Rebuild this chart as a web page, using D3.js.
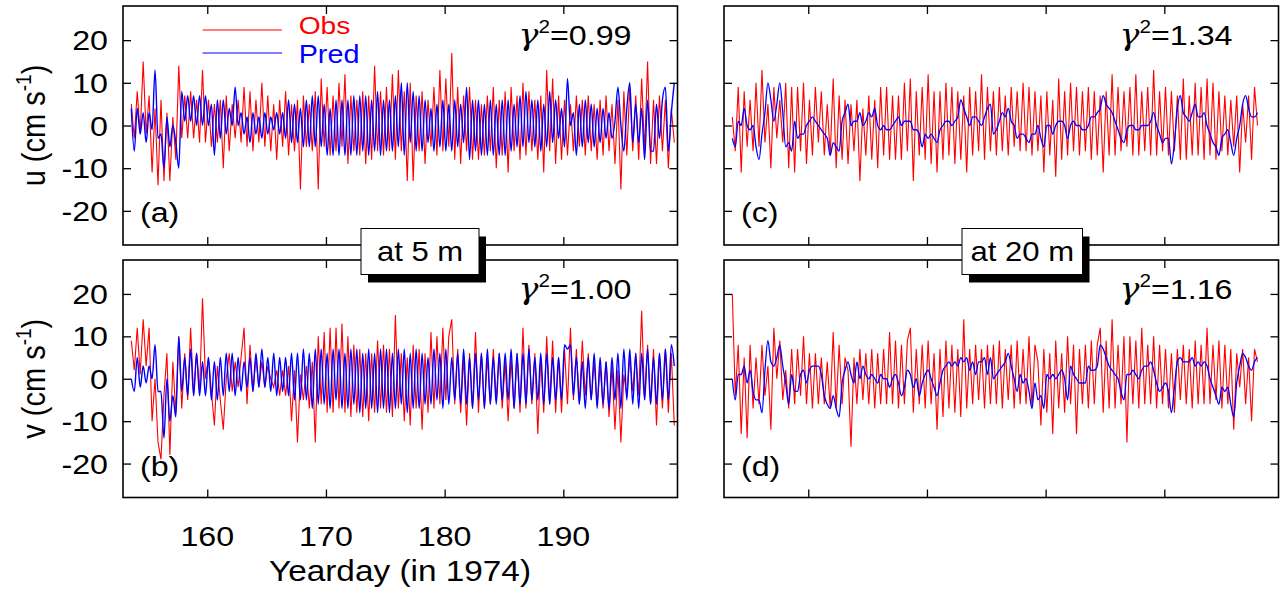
<!DOCTYPE html>
<html>
<head>
<meta charset="utf-8">
<script src="https://cdn.jsdelivr.net/npm/d3@7"></script>
<style>
body { margin: 0; background: #fff; }
text { font-family: "Liberation Sans", Arial, Helvetica, sans-serif; }
</style>
</head>
<body>
<script>
// time axis of the records: one value every quarter day
var startDay = 153.6
var step = 0.25

var xTicks = [160, 170, 180, 190]
var yTicks = [-20, -10, 0, 10, 20]
var yTickLabels = ["-20", "-10", "0", "10", "20"]
var panelTags = ["(a)", "(b)", "(c)", "(d)"]
var gammaValues = ["0.99", "1.00", "1.34", "1.16"]
var depthLabels = ["at 5 m", "at 20 m"]

// u at 5 m
var u5Obs = [5,-3,8,-2, 15,-2,7,-11, 4,-14,6,-13, 3,-13,2,-8, 14,-3,7,-3, 8,-3,6,-4, 13,-4,6,-5, 5,-4,6,-10,
  7,-6,5,-3, 6,-4,9,-5, 8,-6,6,-4, 10,-5,7,-6, 5,-8,6,-5, 8,-7,5,-6, 6,-15,7,-5, 5,-6,8,-15,
  11,-5,9,-7, 7,-6,10,-5, 12,-9,7,-6, 6,-7,8,-9, 7,-8,14,-6, 8,-7,9,-6, 12,-8,13,-6, 8,-13,10,-13,
  7,-6,8,-9, 6,-5,9,-7, 13,-6,11,-5, 17,-8,9,-9, 7,-6,9,-8, 6,-8,5,-7, 7,-6,9,-10, 6,-7,8,-11,
  9,-6,7,-8, 10,-7,8,-6, 6,-8,7,-11, 13,-6,11,-9, 7,-8,6,-7, 5,-6,7,-5, 6,-7,7,-6, 5,-8,6,-7,
  7,-6,5,-9, 6,-15,8,-7, 9,-6,7,-8, 11,-6,15,-9, 6,-9,7,-6, 6,-10,4,-4]
var u5Pred = [4,-6,4,-2, 3,-4,3,-1, 13,-3,-2,-10, 2,-5,0,-4, -10,8,1,7, 1,7,0,7, 0,7,0,5, -7,6,-3,6,
  -2,4,0,9, 0,3,-2,2, -4,3,-2,2, -3,3,-2,2, -1,3,-2,3, -3,6,-4,5, -4,4,-5,6, -5,7,-5,7,
  -5,5,-7,4, -7,6,-7,6, -7,6,-7,7, -7,7,-6,7, -7,6,-6,8, -7,6,-6,6, -6,7,-5,10, -7,10,-4,8,
  -6,7,-6,6, -4,4,-6,5, -5,6,-6,5, -6,6,-5,5, -4,9,-8,6, -6,6,-7,5, -7,6,-7,5, -7,6,-7,6,
  -6,5,-5,7, -5,8,-4,6, -5,6,-6,5, -5,8,-4,6, -3,4,-5,11, 0,3,-7,5, -5,6,-4,5, -5,4,-4,4,
  -3,3,-3,1, 9,0,-6,4, 10,-4,5,-4, 4,-8,6,-6, -6,5,-3,6, 9,-6,3,10]

// v at 5 m
var v5Obs = [9,2,12,1, 14,3,12,-10, 0,-15,-19,-4, 6,-18,4,-8, 10,-7,6,-5, 12,-4,6,-3, 19,0,5,-3, -11,3,-5,-12,
  0,6,-3,4, -2,5,12,-6, 8,-3,5,-2, 4,-2,3,0, -2,2,-4,2, -4,3,-10,2, -15,1,-5,3, -7,4,-15,10,
  -6,11,-8,12, -8,12,-7,13, -8,10,-9,8, -8,7,-9,6, -10,6,-8,9, -7,8,-8,7, -9,15,-7,6, -10,5,-11,8,
  -7,7,-12,6, -8,11,-7,10, -6,12,-5,10, 14,-6,7,-8, 5,-11,6,-7, 11,-8,6,-7, 5,-6,7,-5, 6,-7,4,-10,
  5,-7,6,-8, 12,-7,8,-6, 6,-13,5,-8, 10,-6,9,-8, 5,-8,7,-6, 12,-5,7,-6, 9,-4,6,-5, 4,-6,3,-7,
  4,-9,3,-12, 2,-15,1,-4, 5,-3,6,-4, 16,-5,8,-6, 7,-11,6,-7, 7,-8,6,-11]
var v5Pred = [0,-3,5,-2, 3,-1,3,0, 8,-3,-3,-14, 0,-10,-4,-9, 10,-3,5,-4, 7,-4,6,-4, 4,-4,5,-5, 4,-5,5,-4,
  6,-3,6,-4, 5,-3,4,-2, 5,-3,6,-2, 7,-2,5,-3, 6,-4,5,-3, 5,-4,6,-5, 6,-5,7,-5, 6,-7,7,-6,
  7,-6,6,-7, 7,-5,7,-7, 6,-7,7,-6, 7,-8,6,-7, 7,-7,6,-8, 7,-7,7,-8, 6,-7,7,-6, 7,-8,6,-7,
  7,-7,6,-6, 5,-6,7,-5, 6,-7,7,-6, 5,-5,6,-6, 7,-6,5,-7, 6,-5,6,-7, 7,-6,5,-6, 6,-5,6,-5,
  7,-7,6,-6, 6,-6,7,-5, 5,-5,6,-6, 6,-6,5,-5, 5,-5,8,7, 8,-4,5,-6, 4,-7,5,-5, 6,-7,5,-6,
  4,-7,5,-5, 6,-7,7,-5, 7,-6,6,-7, 6,-5,7,-6, 5,-6,6,-5, 7,-5,8,3]

// u at 20 m
var u20Obs = [2,-6,9,-11, 8,-5,6,-6, 10,-5,13,-4, 5,-10,9,-3, 6,-4,10,-10, 9,-11,9,-6, 10,-9,6,-7, 9,-4,8,-7,
  5,-7,11,-10, 7,-8,6,-9, 5,-6,6,-13, 4,-7,7,-8, 6,-10,9,-7, 9,-8,7,-8, 7,-8,10,-6, 11,-13,8,-7,
  9,-8,12,-9, 8,-11,8,-8, 10,-7,9,-9, 8,-8,7,-11, 9,-7,8,-6, 12,-8,9,-6, 8,-7,9,-6, 7,-7,9,-5,
  8,-6,10,-6, 9,-7,8,-6, 7,-11,8,-7, 6,-12,11,-8, 8,-7,10,-6, 9,-7,8,-6, 9,-8,8,-7, 7,-11,8,-7,
  12,-7,9,-6, 8,-5,9,-7, 12,-7,8,-6, 9,-7,13,-7, 8,-6,9,-7, 8,-6,7,-8, 11,-8,7,-7, 10,-7,9,-8,
  11,-7,10,-8, 8,-6,7,-7, 6,-5,7,-11, 5,-4,7,-8, 9,0]
var u20Pred = [-3,-5,1,0, 4,0,-1,0, -5,-8,-2,3, 10,6,1,5, 10,3,-5,-4, -6,1,-3,-2, -2,0,1,2, 1,0,-1,-2,
  -3,-7,-4,-5, -6,1,3,5, 0,1,1,3, 0,1,3,2, 4,0,-1,0, -1,-1,0,1, 2,0,1,1, 1,-1,-1,-2,
  -5,-2,-3,-2, -3,-4,-1,0, 1,1,0,1, 2,6,4,2, 0,2,2,1, 0,2,4,5, -2,-1,1,3, 2,4,1,0,
  -3,-2,-2,-3, -4,-2,-2,0, -3,-5,0,0, -2,0,1,1, 0,-3,0,1, 0,0,-1,-1, 0,2,2,3, 4,7,5,4,
  3,1,-1,-3, -4,-1,0,0, -1,-1,0,0, 0,1,3,0, -2,-4,-3,-3, -9,-4,4,7, 3,2,1,3, 5,2,2,3,
  0,-2,-4,-5, -7,-3,-2,-1, -4,-7,-3,0, 5,7,4,2, 2,3]

// v at 20 m
var v20Obs = [20,-4,8,-13, 5,-14,8,-7, 5,-6,8,-4, 3,-12,12,0, 9,-5,2,-7, 7,-6,7,-4, 10,-6,6,-7, 6,-6,5,-6,
  4,-7,11,-7, 8,-6,5,2, -16,5,-6,7, -5,6,-6,7, -7,6,-6,7, -6,11,-6,9, -7,8,-6,9, 12,-8,7,-6,
  8,-7,9,-6, 6,-12,7,-9, 9,-7,8,-8, 7,-9,14,-7, 7,-6,8,-5, 7,-7,8,-6, 8,-6,9,-7, 7,-5,8,-7,
  9,-6,7,-6, 10,-7,8,4, -11,7,-8,6, -13,9,-7,6, -8,10,-6,8, -13,7,-6,8, -7,9,-6,8, 12,-8,9,-7,
  14,-7,8,-6, 10,-15,10,-6, 9,-7,12,-6, 8,-6,10,-7, 8,-6,7,-7, 6,-8,7,-5, 8,-6,7,-7, 9,-6,8,-6,
  12,-6,8,-5, 9,-7,8,-6, 7,-12,6,-2, 7,-6,5,-10, 7,4]
var v20Pred = [0,-5,1,1, 3,-1,2,-3, -5,-5,-8,2, 9,4,3,5, 8,3,-1,-6, 1,-3,-3,1, 2,-1,2,3, 3,3,1,-4,
  -6,-7,-4,-7, -9,-1,2,4, 1,-1,4,0, 3,1,0,1, 0,-1,1,0, 0,-2,0,1, -1,-4,-2,2, 1,-2,0,-4,
  -1,1,2,0, -2,-4,-1,2, 3,4,3,4, 3,5,4,5, 2,4,1,4, 4,5,1,5, 0,1,2,3, 4,6,3,0,
  -3,1,-1,0, -3,-7,-1,-5, -4,-7,1,0, 1,0,1,2, 0,-5,3,1, 0,-1,-1,-1, 3,2,2,3, 8,7,5,3,
  2,1,0,-3, -5,1,1,2, 1,0,2,3, 3,4,2,-1, -3,-2,-1,-3, -8,-2,4,5, 4,4,4,5, 3,4,3,4,
  3,0,-2,-4, -6,-2,-3,-2, -6,-9,-1,3, 6,5,3,2, 4,5]

var width = 1284
var height = 594
var SX = 1.15   // the lettering of the figure is a bit wide

var svg = d3.select("body").append("svg")
    .attr("width", width)
    .attr("height", height)

var xLeft = d3.scaleLinear().domain([152.9, 199.62]).range([123, 677.5])
var xRight = d3.scaleLinear().domain([152.9, 199.62]).range([724, 1278.5])
var yTop = d3.scaleLinear().domain([-28, 28]).range([245, 6])
var yBottom = d3.scaleLinear().domain([-28, 28]).range([497.5, 260])

var panels = [
  {x: xLeft, y: yTop, obs: u5Obs, pred: u5Pred, tagY: 222, gY: 45},
  {x: xLeft, y: yBottom, obs: v5Obs, pred: v5Pred, tagY: 476, gY: 299},
  {x: xRight, y: yTop, obs: u20Obs, pred: u20Pred, tagY: 222, gY: 45},
  {x: xRight, y: yBottom, obs: v20Obs, pred: v20Pred, tagY: 476, gY: 299}
]

// writes a piece of text stretched sideways like the original lettering
function words(g, px, py, str, size, anchor, color) {
    return g.append("text")
        .attr("transform", "translate(" + px + "," + py + ") scale(" + SX + ",1)")
        .attr("text-anchor", anchor || "start")
        .attr("font-size", size)
        .attr("fill", color || "#000")
        .text(str)
}

function drawPanel(p, k) {
    var g = svg.append("g")
    var x0 = p.x.range()[0], x1 = p.x.range()[1]
    var yb = p.y.range()[0], yt = p.y.range()[1]

    g.append("clipPath").attr("id", "clip" + k)
        .append("rect").attr("x", x0).attr("y", yt).attr("width", x1 - x0).attr("height", yb - yt)

    var lineObs = d3.line()
        .x(function(d, i) { return p.x(startDay + i * step) })
        .y(function(d) { return p.y(d) })
    var linePred = d3.line()
        .x(function(d, i) { return p.x(startDay + i * step) })
        .y(function(d) { return p.y(d) })
        .curve(d3.curveMonotoneX)

    var plot = g.append("g").attr("clip-path", "url(#clip" + k + ")")
    plot.append("path").datum(p.obs)
        .attr("d", lineObs)
        .attr("fill", "none").attr("stroke", "#ff0000").attr("stroke-width", 1.1)
    plot.append("path").datum(p.pred)
        .attr("d", linePred)
        .attr("fill", "none").attr("stroke", "#0000ff").attr("stroke-width", k < 2 ? 1.4 : 1.3)

    // inward ticks on all four sides
    var axes = [
        [d3.axisBottom(p.x).tickValues(xTicks), "translate(0," + yb + ")"],
        [d3.axisTop(p.x).tickValues(xTicks), "translate(0," + yt + ")"],
        [d3.axisLeft(p.y).tickValues(yTicks), "translate(" + x0 + ",0)"],
        [d3.axisRight(p.y).tickValues(yTicks), "translate(" + x1 + ",0)"]
    ]
    axes.forEach(function(a) {
        var ax = g.append("g").attr("transform", a[1])
            .call(a[0].tickSize(-8).tickFormat(""))
        ax.select(".domain").remove()
        ax.selectAll("line").attr("stroke", "#000").attr("stroke-width", 1.3)
    })

    g.append("rect")
        .attr("x", x0).attr("y", yt).attr("width", x1 - x0).attr("height", yb - yt)
        .attr("fill", "none").attr("stroke", "#000").attr("stroke-width", 1.6)

    words(g, x0 + 17, p.tagY, panelTags[k], 28)

    // gamma^2 value, top right (gamma drawn in a serif italic like the symbol font)
    var gt = g.append("text")
        .attr("transform", "translate(" + (x1 - 46) + "," + p.gY + ") scale(" + SX + ",1)")
        .attr("text-anchor", "end")
        .attr("font-size", 28)
    gt.append("tspan").attr("font-family", "'DejaVu Serif', serif").attr("font-style", "italic")
        .attr("font-size", 29).text("\u03b3")
    gt.append("tspan").attr("font-size", 18).attr("dy", -12).text("2")
    gt.append("tspan").attr("dy", 12).text("=" + gammaValues[k])

    // y tick labels on the left column only
    if (k < 2) {
        yTicks.forEach(function(v, i) {
            words(g, 108, p.y(v) + 10, yTickLabels[i], 28, "end")
        })
    }
    // x tick labels under panel (b) only
    if (k == 1) {
        xTicks.forEach(function(v) {
            words(g, p.x(v), 546, String(v), 28, "middle")
        })
    }
}

panels.forEach(drawPanel)

// legend in panel (a)
var leg = svg.append("g")
leg.append("line").attr("x1", xLeft(159.6)).attr("x2", xLeft(166.3)).attr("y1", 30).attr("y2", 30)
    .attr("stroke", "#ff0000").attr("stroke-width", 1.2)
leg.append("line").attr("x1", xLeft(159.6)).attr("x2", xLeft(166.3)).attr("y1", 53).attr("y2", 53)
    .attr("stroke", "#0000ff").attr("stroke-width", 1.2)
words(leg, xLeft(167.7), 34, "Obs", 24.5, "start", "#ff0000")
words(leg, xLeft(167.7), 62.5, "Pred", 25, "start", "#0000ff")

// depth boxes with drop shadows
var boxes = [{x: 361, w: 118, label: depthLabels[0]}, {x: 962, w: 120.5, label: depthLabels[1]}]
boxes.forEach(function(b) {
    svg.append("rect").attr("x", b.x + 7).attr("y", 236.5).attr("width", b.w).attr("height", 46)
        .attr("fill", "#000")
    svg.append("rect").attr("x", b.x).attr("y", 228.5).attr("width", b.w).attr("height", 46)
        .attr("fill", "#fff").attr("stroke", "#000").attr("stroke-width", 1)
    words(svg, b.x + b.w / 2, 261, b.label, 27, "middle")
})

// axis titles
function yTitle(cy, letter) {
    var t = svg.append("text")
        .attr("transform", "translate(45," + cy + ") scale(" + SX + ",1) rotate(-90)")
        .attr("text-anchor", "middle")
        .attr("font-size", 29)
    t.append("tspan").text(letter + " (cm s")
    t.append("tspan").attr("font-size", 19).attr("dy", -12).text("-1")
    t.append("tspan").attr("dy", 12).text(")")
}
yTitle(yTop(0), "u")
yTitle(yBottom(0), "v")

words(svg, 400, 581, "Yearday (in 1974)", 29, "middle")
</script>
</body>
</html>
